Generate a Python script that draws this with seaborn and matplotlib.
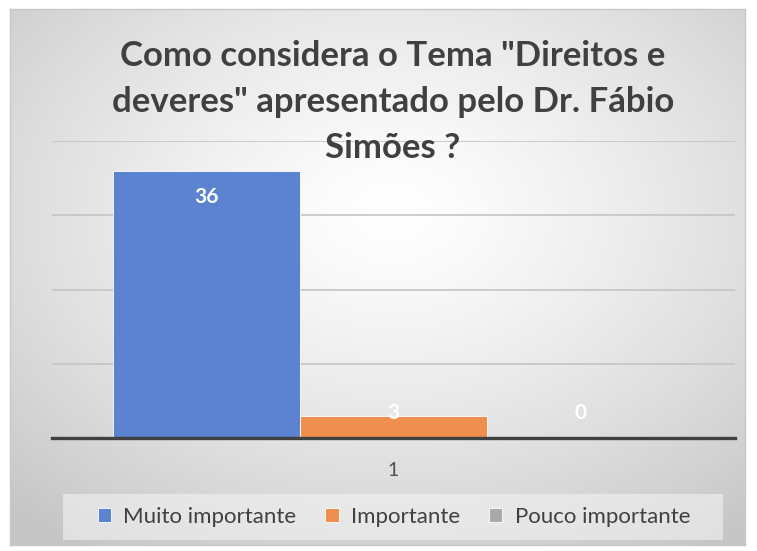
import numpy as np
import pandas as pd
import matplotlib.pyplot as plt
from matplotlib.patches import Rectangle
import seaborn as sns

# dados do gráfico
categorias = ['Muito importante', 'Importante', 'Pouco importante']
valores = [36, 3, 0]
grupo = ['1', '1', '1']
cores = ['#5B83CF', '#EF8F4F', '#A9A9A9']
titulo = 'Como considera o Tema "Direitos e\ndeveres" apresentado pelo Dr. Fábio\nSimões ?'

sns.set_style('white')
plt.rcParams['font.family'] = ['Lato', 'DejaVu Sans']

df = pd.DataFrame({'grupo': grupo, 'categoria': categorias, 'valor': valores})

fig = plt.figure(figsize=(7.57, 5.51), dpi=100)
W, H = 757, 551

# fundo com gradiente radial (moldura do gráfico)
bg = fig.add_axes([10 / W, 1 - 545 / H, 735 / W, 536 / H], zorder=0)
yy, xx = np.mgrid[0:1:300j, 0:1:400j]
r = np.sqrt(((xx - 0.52) / 0.75) ** 2 + ((yy - 0.38) / 0.75) ** 2)
g = 1 - 0.22 * np.clip(r, 0, 1) ** 1.3
bg.imshow(np.dstack([g, g, g]), aspect='auto', extent=[0, 1, 1, 0])
bg.set_xticks([])
bg.set_yticks([])
for s in bg.spines.values():
    s.set_color('#c8c8c8')
    s.set_linewidth(1)

# fundo da legenda
fig.patches.append(Rectangle((63 / W, 1 - 540 / H), 660 / W, 46 / H,
                             transform=fig.transFigure, facecolor='#f6f6f6',
                             alpha=0.55, edgecolor='none', zorder=0.5))

ax = fig.add_axes([52 / W, 1 - 438 / H, 683 / W, 297 / H], zorder=1)
ax.set_facecolor('none')
sns.barplot(data=df, x='grupo', y='valor', hue='categoria', palette=cores,
            width=0.82, saturation=1, edgecolor='white', linewidth=0.6,
            legend=True, ax=ax, zorder=3)

ax.set_ylim(0, 40)
ax.set_yticks([10, 20, 30, 40])
ax.yaxis.grid(True, color='#c4c4c4', linewidth=1.2, zorder=0)
ax.tick_params(axis='y', left=False, labelleft=False)
ax.tick_params(axis='x', bottom=False, labelsize=14, labelcolor='#505050', pad=14)
ax.set_xlabel('')
ax.set_ylabel('')
for s in ['top', 'right', 'left']:
    ax.spines[s].set_visible(False)
ax.spines['bottom'].set_color('#404040')
ax.spines['bottom'].set_linewidth(2.4)
ax.spines['bottom'].set_zorder(5)

# rótulos de dados
for cont in ax.containers:
    for barra, v in zip(cont.patches, cont.datavalues):
        xc = barra.get_x() + barra.get_width() / 2
        ax.text(xc, max(v - 3.6, 3.3), f'{v:.0f}', ha='center', va='center',
                color='white', fontsize=15, fontweight='bold', zorder=6)

fig.text(393 / W, 1 - 102 / H, titulo, ha='center', va='center', fontsize=25,
         fontweight='bold', color='#404040', linespacing=1.54, zorder=10)

leg = ax.legend(loc='center', bbox_to_anchor=(394 / W, 1 - 517 / H),
                bbox_transform=fig.transFigure, ncol=3, fontsize=16,
                frameon=False, handlelength=0.6, handleheight=0.6,
                handletextpad=0.55, columnspacing=1.3)
for t in leg.get_texts():
    t.set_color('#404040')

fig.savefig('out.png', dpi=100)
